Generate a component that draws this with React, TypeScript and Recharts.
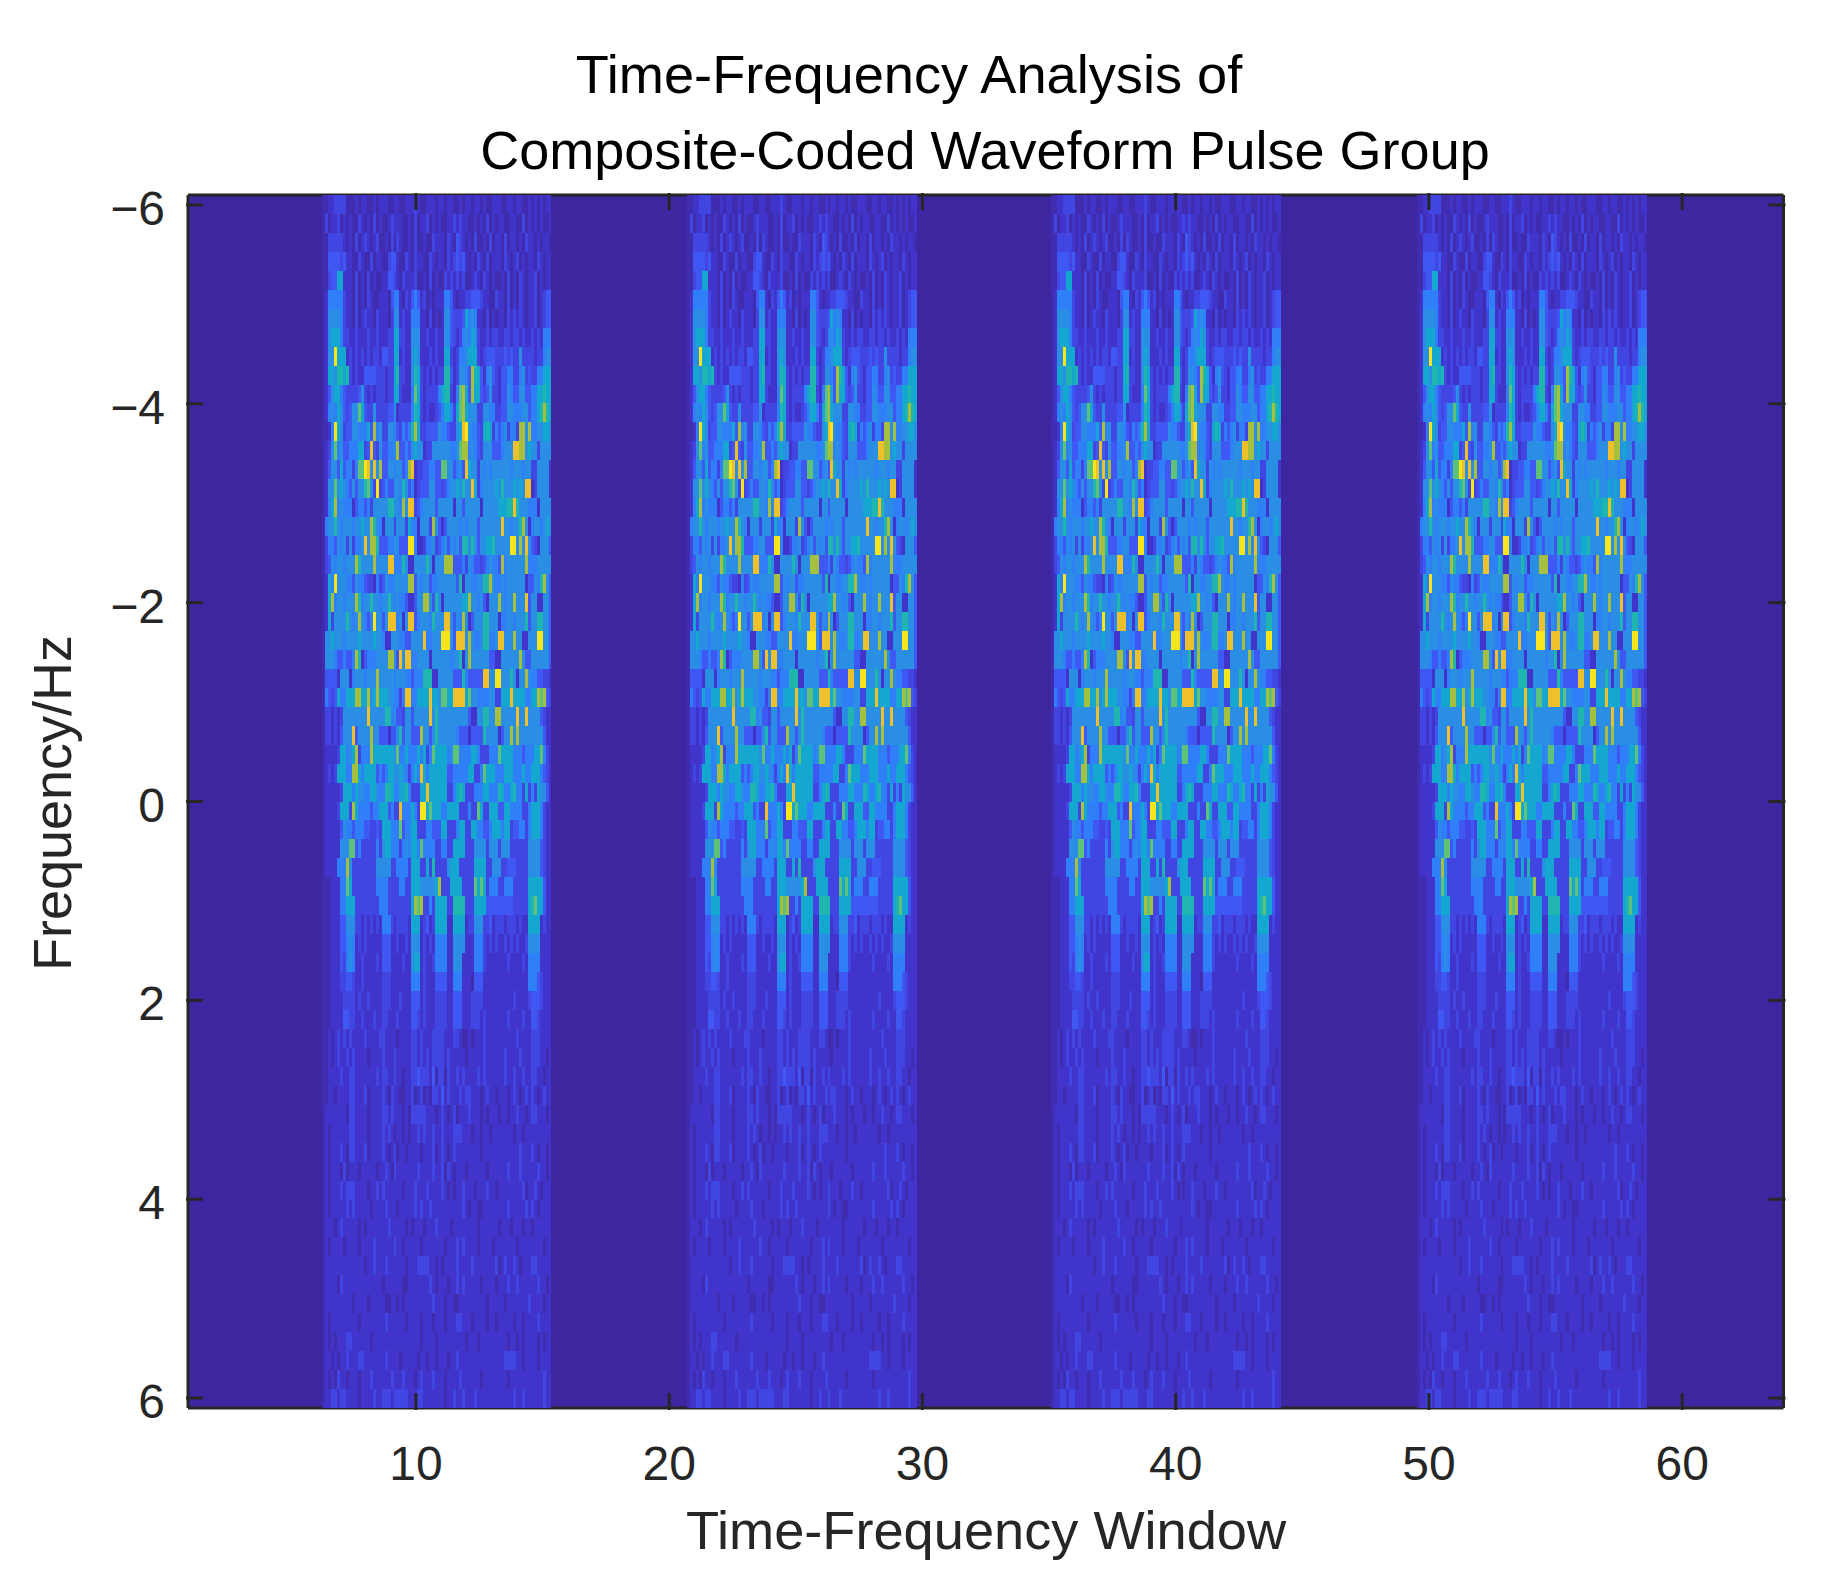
import React from "react";
import { ScatterChart, Scatter, XAxis, YAxis, ReferenceArea } from "recharts";

const CHART_W = 1834;
const CHART_H = 1583;
const PLOT = { left: 188, right: 1783.5, top: 195, bottom: 1408 };

const xTicks = [10, 20, 30, 40, 50, 60];
const yTicks = [-6, -4, -2, 0, 2, 4, 6];
const xDomain = [1, 64];
const yDomain = [-6.1, 6.1];

// where each pulse starts on the window axis, and width of one column in windows
const burstStarts = [6.29, 20.72, 35.09, 49.53];
const columnWidth = 0.1177;

// parula-like steps, index = character in burstRows (0-9, a, b, c)
const levelColors = [
  "#3d26a0", "#3f2cae", "#4034ca", "#4146e2", "#3f58f4", "#2f7ff8", "#2a8fe4",
  "#14a8d0", "#1eb6ae", "#5fc27a", "#a5bf3e", "#eec12c", "#f9e51c",
];

// one pulse: 64 frequency rows top to bottom, 77 columns.
// the four pulses in the reference are almost the same so this table is used for all of them
const burstRows = [
  "1122333311 1212211212 2211221122 2321122212 2122112122 1221211222 1122122112 1212122",
  "1312231212 1132121312 1123222112 1312231212 1122323221 1212131212 2112211312 1212112",
  "1133333212 1312321231 1213132112 1311211322 2132143212 1311213122 1312212132 2121221",
  "1144443422 1132113122 1134421132 1322113212 2132343421 2132131222 1321231212 2132122",
  "1134477222 1312131211 2244321322 2311213121 1323232311 2321321211 2131213212 2312122",
  "1255555322 1312132112 2214552132 4542312122 2554212233 4443221132 2131213212 2312344",
  "1266665322 1312322132 2213662322 5552213121 2664333475 6522131212 2132323212 2312344",
  "1267775332 2322232232 2233773322 6662232232 2664323565 7632232332 2332332322 3232555",
  "1266c77723 2323232332 4433772322 6762223232 2773235567 7732344433 3434336333 3233566",
  "1277688783 2322444433 3233783322 6873232323 3884236654 a874256432 4455335634 3355777",
  "1246775433 3346323233 3233773222 5973233335 7883259a74 a774346332 4465446644 5577877",
  "1256576434 6697433633 3344623333 5873232234 5775379a76 6633665533 4466555664 5578a87",
  "1125c76344 6655574a56 3366543545 8a73344446 5543367bc6 5543787354 563553aa6a 5566776",
  "1236956445 557734b436 4455 6a4454 6766233666 6665569aa5 6543666444 5666bbaa67 6636666",
  "1246647455 3599cb6b6a 4466566 45a b233445544 9966456 4b7 6636565666 6665666566 3366662",
  "1266967654 6466896 3c3 4544665864 5234446644 3456676866 b735666676 86667676bb 2366662",
  "1257a56555 2455453666 6688665a6b b345666646 6666266466 6662666667 7788b86665 5526666",
  "1566865666 566766a865 2666366637 5526663a64 2466665656 6646666666 b665668a62 5665676",
  "1355465636 3556b6aa84 445566444c c522355634 5646564886 8646677866 666cc6a6b6 4326664",
  "1346566566 6a86666a66 66bb555862 2666686266 6aaa444536 5443456554 a5666666a5 5566666",
  "1275c66655 4655433253 465566666a a465664556 6666648266 556688a655 6566666624 4658a64",
  "127a566566 6a85668665 6686565542 2466aa6486 266666677a 665642666a 6566a666b4 6622664",
  "1273666686 56a6545c66 46bbb5626b b456665866 6bb6465a62 4666886662 5566566684 6688664",
  "1667666566 6676666766 5226665544 6666b55666 ccc64bbb6a 655688556b b666a66226 66cc664",
  "1666544544 5a82455566 66aa64b6bb 5566662666 6665668 26a 6666664422 666666a644 6666664",
  "1444426662 56665666a6 6666566655 4555888226 6666444854 4444bb66cc 66686266a6 5544332",
  "1543475577 7aa77a67a7 7766553 5bb 557777b776 9977bbbb79 6655556633 777b777755 77a9a43",
  "1332323666 66666b6666 6885644366 466666b686 6666666664 22668866aa 66666b66b6 6664322",
  "1332324666 b46666a664 4424468466 444a664686 6666654442 4444866662 466a6a6666 6666422",
  "1222237756 7a3555a777 7777695575 5575735977 7756995555 7753335559 7777555455 5779532",
  "1232377755 aa75777745 4577667653 575b757777 7744555557 7335977755 5777555755 7775432",
  "1222223777 5766557765 5887557785 33377b7777 7733578733 3555775558 7557855373 5376642",
  "1222237773 a755554557 774533b555 753cc79777 5577773335 3397337774 4775555335 7775322",
  "1222224655 4555443343 7775559455 7733355444 7733357733 7755445777 5773445535 7775322",
  "1222226669 9453333353 6775553565 7759555533 5533777733 3666636663 6663333336 6664322",
  "12222555a6 3333333366 6663355553 7773373833 3367773333 3777733666 3344433336 6664322",
  "1112225597 3333333355 5533335533 777666667a 3337777333 3979735553 3555333337 7777422",
  "1112225577 7333333335 5533333333 7a9a335377 7733888833 3777744444 4444333337 8977422",
  "1112224466 6332323232 5553233332 7772342377 7722777723 3666334233 3233323227 7772322",
  "1112224456 5232322222 4442232232 6662323255 5522666622 2555323232 2323232236 6662222",
  "1112224356 5223222232 4442222322 6772322355 5522666222 2555322222 2232222325 5552222",
  "1112223344 3223222222 3332222222 5552322244 4422555222 1444222222 2222222225 5543222",
  "1112222333 3232232222 3332223222 4442322233 3322444222 3333222222 2222322223 4443222",
  "1112222443 3223222322 3322232222 4432322233 3322444222 3332322222 2232222322 4432222",
  "1121232323 2222322223 3222212222 3323222333 3222332112 1222322222 2222232222 3332222",
  "1121232232 3222212222 3222322222 3323232333 3232222212 2222322222 2322223222 3332212",
  "1122223223 3222222232 3322322122 3343332413 3132232322 2232322222 2322322322 3322122",
  "1122122223 3222312222 3213221122 3123121332 4232223233 2221232212 2212321232 3212322",
  "1222222213 3222212222 3323222121 3333322212 3212312223 2221212221 2212232212 3322212",
  "1212222223 3222212222 3232122121 2232322322 3222333222 1221221222 2222122122 2222222",
  "1212223213 3222312222 3212312212 2221222312 3212322222 2221222222 2222223222 3212212",
  "1212221312 2212222212 2321322222 2232222322 3132122212 2222212222 2232223222 2232212",
  "1212223233 3222212232 3222222122 2322232222 3212122322 2122232212 2222222312 2321222",
  "1212222232 3222221222 2322212222 2323223222 2222222321 2211222222 2232222232 3212222",
  "1222123222 2212122222 2232222212 1222122232 2221222222 2212222221 2221222122 1222222",
  "1212222122 2212222322 2222322122 2221222222 2122232322 2212222122 2222212222 2222122",
  "1222222222 2222122322 2322222212 2233332212 1222232222 3222222231 2322321222 3322222",
  "1222213222 2222222222 1222222112 2222223212 2212232322 2221222212 2232232222 2232212",
  "1222222222 1222212222 2112212122 2222222322 2122112222 2222212222 2122222223 2222122",
  "1212222222 2212222222 2322222212 2221222122 2122233222 1222212212 2222122122 2232222",
  "1212122233 2222221222 2222222222 2221222212 2222222212 2212222222 2212212122 2212122",
  "1221212232 2233222222 2322221222 2212212212 2212232222 2222222222 2333322122 2212222",
  "1212132212 2212223222 2223222322 2123222322 2122223222 2221222222 2212222222 2222322",
  "1223323322 2212222322 3332333332 2233222222 2122322322 2322222222 2222322322 2222322",
];

const DARK = "#262626";
const TICK_LEN = 17;

type Cell = { x: number; y: number; span: number; level: number };

// merge neighbouring equal cells so the svg stays small
const buildCells = (): Cell[] => {
  const cells: Cell[] = [];
  const rowStep = (yDomain[1] - yDomain[0]) / burstRows.length;
  burstStarts.forEach((start) => {
    burstRows.forEach((raw, r) => {
      const row = raw.replace(/ /g, "");
      let c = 0;
      while (c < row.length) {
        let end = c + 1;
        while (end < row.length && row[end] === row[c]) end++;
        cells.push({
          x: start + ((c + end) / 2) * columnWidth,
          y: yDomain[0] + (r + 0.5) * rowStep,
          span: (end - c) * columnWidth,
          level: parseInt(row[c], 16),
        });
        c = end;
      }
    });
  });
  return cells;
};

const cells = buildCells();

const pxPerWindow = (PLOT.right - PLOT.left) / (xDomain[1] - xDomain[0]);
const rowHeight = (PLOT.bottom - PLOT.top) / burstRows.length;

const CellShape = (props: any) => {
  const { cx, cy, payload } = props;
  const w = payload.span * pxPerWindow;
  return (
    <rect
      x={cx - w / 2}
      y={cy - rowHeight / 2}
      width={w}
      height={rowHeight}
      fill={levelColors[payload.level]}
      shapeRendering="crispEdges"
    />
  );
};

const BottomTick = ({ x, y, payload }: any) => (
  <g>
    <line x1={x} x2={x} y1={y} y2={y - TICK_LEN} stroke={DARK} strokeWidth={3} />
    <text x={x} y={y + 70} textAnchor="middle" fontSize={48} fill={DARK}>
      {payload.value}
    </text>
  </g>
);

const TopTick = ({ x, y }: any) => (
  <line x1={x} x2={x} y1={y} y2={y + TICK_LEN} stroke={DARK} strokeWidth={3} />
);

const LeftTick = ({ x, y, payload }: any) => (
  <g>
    <line x1={x} x2={x + TICK_LEN} y1={y} y2={y} stroke={DARK} strokeWidth={3} />
    <text x={x - 21} y={y + 20} textAnchor="end" fontSize={48} fill={DARK}>
      {String(payload.value).replace("-", "\u2212")}
    </text>
  </g>
);

const RightTick = ({ x, y }: any) => (
  <line x1={x} x2={x - TICK_LEN} y1={y} y2={y} stroke={DARK} strokeWidth={3} />
);

const axisLine = { stroke: DARK, strokeWidth: 3 };

export default function App() {
  return (
    <div
      style={{
        position: "absolute",
        left: 0,
        top: 0,
        width: CHART_W,
        height: CHART_H,
        background: "#fff",
        fontFamily: "'Liberation Sans', Arial, sans-serif",
      }}
    >
      <ScatterChart
        width={CHART_W}
        height={CHART_H}
        margin={{ top: 0, right: 0, bottom: 0, left: 0 }}
      >
        <ReferenceArea
          xAxisId="bottom"
          yAxisId="left"
          x1={xDomain[0]}
          x2={xDomain[1]}
          y1={yDomain[0]}
          y2={yDomain[1]}
          fill={levelColors[0]}
          fillOpacity={1}
          stroke="none"
        />
        <Scatter
          xAxisId="bottom"
          yAxisId="left"
          data={cells}
          shape={CellShape}
          isAnimationActive={false}
        />
        <XAxis
          xAxisId="bottom"
          dataKey="x"
          type="number"
          domain={xDomain}
          ticks={xTicks}
          interval={0}
          height={CHART_H - PLOT.bottom}
          allowDataOverflow
          axisLine={axisLine}
          tickLine={false}
          tickSize={0}
          tick={BottomTick}
        />
        <XAxis
          xAxisId="top"
          dataKey="x"
          orientation="top"
          type="number"
          domain={xDomain}
          ticks={xTicks}
          interval={0}
          height={PLOT.top}
          allowDataOverflow
          axisLine={axisLine}
          tickLine={false}
          tickSize={0}
          tick={TopTick}
        />
        <YAxis
          yAxisId="left"
          dataKey="y"
          type="number"
          reversed
          domain={yDomain}
          ticks={yTicks}
          interval={0}
          width={PLOT.left}
          allowDataOverflow
          axisLine={axisLine}
          tickLine={false}
          tickSize={0}
          tick={LeftTick}
        />
        <YAxis
          yAxisId="right"
          dataKey="y"
          orientation="right"
          type="number"
          reversed
          domain={yDomain}
          ticks={yTicks}
          interval={0}
          width={CHART_W - PLOT.right}
          allowDataOverflow
          axisLine={axisLine}
          tickLine={false}
          tickSize={0}
          tick={RightTick}
        />
        <text x={909} y={93} textAnchor="middle" fontSize={54.2} fill="#000">
          Time-Frequency Analysis of
        </text>
        <text x={985} y={169} textAnchor="middle" fontSize={54} fill="#000">
          Composite-Coded Waveform Pulse Group
        </text>
        <text x={986} y={1549} textAnchor="middle" fontSize={54.2} fill={DARK}>
          Time-Frequency Window
        </text>
        <text
          x={71}
          y={803}
          textAnchor="middle"
          fontSize={54}
          fill={DARK}
          transform="rotate(-90 71 803)"
        >
          Frequency/Hz
        </text>
      </ScatterChart>
    </div>
  );
}
